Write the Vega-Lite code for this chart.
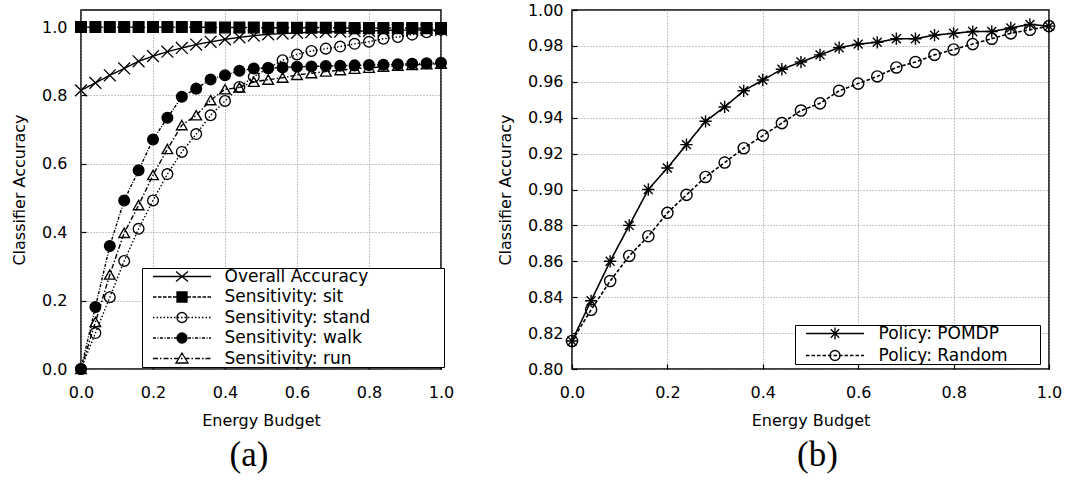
{
  "$schema": "https://vega.github.io/schema/vega-lite/v6.json",
  "padding": {"left": 10, "top": 1, "right": 0, "bottom": 0},
  "background": "white",
  "bounds": "flush",
  "spacing": 131,
  "resolve": {
    "scale": {"shape": "independent", "strokeDash": "independent"},
    "legend": {"shape": "independent", "strokeDash": "independent"}
  },
  "config": {
    "font": "DejaVu Sans",
    "view": {"stroke": "black", "strokeWidth": 1.5},
    "axis": {
      "labelFont": "DejaVu Sans", "labelFontSize": 16, "labelColor": "black",
      "titleFont": "DejaVu Sans", "titleFontSize": 16, "titleFontWeight": "normal", "titleColor": "black",
      "domain": false, "ticks": true, "tickColor": "black", "tickSize": -5, "tickWidth": 1.2,
      "grid": true, "gridColor": "#888888", "gridDash": [1, 2], "gridWidth": 1,
      "labelFlush": false, "labelOverlap": false
    },
    "legend": {
      "title": null, "orient": "none", "padding": 0, "symbolOffset": 2.5, "labelOffset": 63,
      "symbolSize": 4, "symbolStrokeWidth": 1.3, "symbolStrokeColor": "black", "symbolOpacity": 1,
      "labelFont": "DejaVu Sans", "labelFontSize": 17, "labelColor": "black", "labelLimit": 400,
      "fillColor": "white", "strokeColor": "black"
    },
    "title": {"font": "Liberation Serif", "fontSize": 35, "fontWeight": "normal", "color": "black"}
  },
  "datasets": {
    "a": [
      {"x": 0.00, "Overall Accuracy": 0.815, "Sensitivity: sit": 1.000, "Sensitivity: stand": 0.000, "Sensitivity: walk": 0.000, "Sensitivity: run": 0.000},
      {"x": 0.04, "Overall Accuracy": 0.837, "Sensitivity: sit": 1.000, "Sensitivity: stand": 0.105, "Sensitivity: walk": 0.181, "Sensitivity: run": 0.137},
      {"x": 0.08, "Overall Accuracy": 0.859, "Sensitivity: sit": 1.000, "Sensitivity: stand": 0.210, "Sensitivity: walk": 0.360, "Sensitivity: run": 0.276},
      {"x": 0.12, "Overall Accuracy": 0.879, "Sensitivity: sit": 1.000, "Sensitivity: stand": 0.316, "Sensitivity: walk": 0.493, "Sensitivity: run": 0.398},
      {"x": 0.16, "Overall Accuracy": 0.900, "Sensitivity: sit": 1.000, "Sensitivity: stand": 0.410, "Sensitivity: walk": 0.581, "Sensitivity: run": 0.479},
      {"x": 0.20, "Overall Accuracy": 0.915, "Sensitivity: sit": 1.000, "Sensitivity: stand": 0.493, "Sensitivity: walk": 0.671, "Sensitivity: run": 0.567},
      {"x": 0.24, "Overall Accuracy": 0.928, "Sensitivity: sit": 1.000, "Sensitivity: stand": 0.570, "Sensitivity: walk": 0.735, "Sensitivity: run": 0.643},
      {"x": 0.28, "Overall Accuracy": 0.939, "Sensitivity: sit": 1.000, "Sensitivity: stand": 0.635, "Sensitivity: walk": 0.796, "Sensitivity: run": 0.713},
      {"x": 0.32, "Overall Accuracy": 0.949, "Sensitivity: sit": 1.000, "Sensitivity: stand": 0.687, "Sensitivity: walk": 0.820, "Sensitivity: run": 0.742},
      {"x": 0.36, "Overall Accuracy": 0.957, "Sensitivity: sit": 0.999, "Sensitivity: stand": 0.742, "Sensitivity: walk": 0.847, "Sensitivity: run": 0.786},
      {"x": 0.40, "Overall Accuracy": 0.964, "Sensitivity: sit": 0.999, "Sensitivity: stand": 0.784, "Sensitivity: walk": 0.859, "Sensitivity: run": 0.818},
      {"x": 0.44, "Overall Accuracy": 0.970, "Sensitivity: sit": 0.999, "Sensitivity: stand": 0.825, "Sensitivity: walk": 0.872, "Sensitivity: run": 0.823},
      {"x": 0.48, "Overall Accuracy": 0.975, "Sensitivity: sit": 0.999, "Sensitivity: stand": 0.855, "Sensitivity: walk": 0.879, "Sensitivity: run": 0.840},
      {"x": 0.52, "Overall Accuracy": 0.979, "Sensitivity: sit": 0.998, "Sensitivity: stand": 0.880, "Sensitivity: walk": 0.880, "Sensitivity: run": 0.846},
      {"x": 0.56, "Overall Accuracy": 0.981, "Sensitivity: sit": 0.998, "Sensitivity: stand": 0.903, "Sensitivity: walk": 0.882, "Sensitivity: run": 0.852},
      {"x": 0.60, "Overall Accuracy": 0.983, "Sensitivity: sit": 0.998, "Sensitivity: stand": 0.920, "Sensitivity: walk": 0.884, "Sensitivity: run": 0.860},
      {"x": 0.64, "Overall Accuracy": 0.985, "Sensitivity: sit": 0.998, "Sensitivity: stand": 0.930, "Sensitivity: walk": 0.885, "Sensitivity: run": 0.865},
      {"x": 0.68, "Overall Accuracy": 0.986, "Sensitivity: sit": 0.998, "Sensitivity: stand": 0.937, "Sensitivity: walk": 0.886, "Sensitivity: run": 0.870},
      {"x": 0.72, "Overall Accuracy": 0.987, "Sensitivity: sit": 0.998, "Sensitivity: stand": 0.943, "Sensitivity: walk": 0.887, "Sensitivity: run": 0.874},
      {"x": 0.76, "Overall Accuracy": 0.988, "Sensitivity: sit": 0.997, "Sensitivity: stand": 0.951, "Sensitivity: walk": 0.888, "Sensitivity: run": 0.878},
      {"x": 0.80, "Overall Accuracy": 0.989, "Sensitivity: sit": 0.997, "Sensitivity: stand": 0.957, "Sensitivity: walk": 0.889, "Sensitivity: run": 0.881},
      {"x": 0.84, "Overall Accuracy": 0.990, "Sensitivity: sit": 0.997, "Sensitivity: stand": 0.966, "Sensitivity: walk": 0.890, "Sensitivity: run": 0.884},
      {"x": 0.88, "Overall Accuracy": 0.991, "Sensitivity: sit": 0.997, "Sensitivity: stand": 0.971, "Sensitivity: walk": 0.891, "Sensitivity: run": 0.887},
      {"x": 0.92, "Overall Accuracy": 0.991, "Sensitivity: sit": 0.997, "Sensitivity: stand": 0.978, "Sensitivity: walk": 0.893, "Sensitivity: run": 0.889},
      {"x": 0.96, "Overall Accuracy": 0.992, "Sensitivity: sit": 0.997, "Sensitivity: stand": 0.985, "Sensitivity: walk": 0.894, "Sensitivity: run": 0.891},
      {"x": 1.00, "Overall Accuracy": 0.992, "Sensitivity: sit": 0.997, "Sensitivity: stand": 0.992, "Sensitivity: walk": 0.896, "Sensitivity: run": 0.893}
    ],
    "b": [
      {"x": 0.00, "Policy: POMDP": 0.8156, "Policy: Random": 0.8156},
      {"x": 0.04, "Policy: POMDP": 0.838, "Policy: Random": 0.833},
      {"x": 0.08, "Policy: POMDP": 0.860, "Policy: Random": 0.849},
      {"x": 0.12, "Policy: POMDP": 0.880, "Policy: Random": 0.863},
      {"x": 0.16, "Policy: POMDP": 0.900, "Policy: Random": 0.874},
      {"x": 0.20, "Policy: POMDP": 0.912, "Policy: Random": 0.887},
      {"x": 0.24, "Policy: POMDP": 0.925, "Policy: Random": 0.897},
      {"x": 0.28, "Policy: POMDP": 0.938, "Policy: Random": 0.907},
      {"x": 0.32, "Policy: POMDP": 0.946, "Policy: Random": 0.915},
      {"x": 0.36, "Policy: POMDP": 0.955, "Policy: Random": 0.923},
      {"x": 0.40, "Policy: POMDP": 0.961, "Policy: Random": 0.930},
      {"x": 0.44, "Policy: POMDP": 0.967, "Policy: Random": 0.937},
      {"x": 0.48, "Policy: POMDP": 0.971, "Policy: Random": 0.944},
      {"x": 0.52, "Policy: POMDP": 0.975, "Policy: Random": 0.948},
      {"x": 0.56, "Policy: POMDP": 0.979, "Policy: Random": 0.955},
      {"x": 0.60, "Policy: POMDP": 0.981, "Policy: Random": 0.959},
      {"x": 0.64, "Policy: POMDP": 0.982, "Policy: Random": 0.963},
      {"x": 0.68, "Policy: POMDP": 0.984, "Policy: Random": 0.968},
      {"x": 0.72, "Policy: POMDP": 0.984, "Policy: Random": 0.971},
      {"x": 0.76, "Policy: POMDP": 0.986, "Policy: Random": 0.975},
      {"x": 0.80, "Policy: POMDP": 0.987, "Policy: Random": 0.978},
      {"x": 0.84, "Policy: POMDP": 0.988, "Policy: Random": 0.981},
      {"x": 0.88, "Policy: POMDP": 0.988, "Policy: Random": 0.984},
      {"x": 0.92, "Policy: POMDP": 0.990, "Policy: Random": 0.987},
      {"x": 0.96, "Policy: POMDP": 0.992, "Policy: Random": 0.989},
      {"x": 1.00, "Policy: POMDP": 0.991, "Policy: Random": 0.991}
    ]
  },
  "hconcat": [
    {
      "width": 360,
      "height": 359,
      "title": {"text": "(a)", "orient": "bottom", "frame": "group", "anchor": "middle", "dx": -12, "offset": 10},
      "data": {"name": "a"},
      "transform": [
        {"fold": ["Overall Accuracy", "Sensitivity: sit", "Sensitivity: stand", "Sensitivity: walk", "Sensitivity: run"], "as": ["series", "acc"]}
      ],
      "encoding": {
        "x": {"field": "x", "type": "quantitative",
              "scale": {"domain": [0, 1], "nice": false, "zero": false},
              "axis": {"title": "Energy Budget", "values": [0, 0.2, 0.4, 0.6, 0.8, 1.0], "format": ".1f", "labelPadding": 20, "titlePadding": 12}},
        "y": {"field": "acc", "type": "quantitative",
              "scale": {"domain": [0, 1.05], "nice": false, "zero": false},
              "axis": {"title": "Classifier Accuracy", "values": [0, 0.2, 0.4, 0.6, 0.8, 1.0], "format": ".1f", "labelPadding": 19, "titlePadding": 14}}
      },
      "resolve": {
        "scale": {"shape": "independent", "strokeDash": "independent"},
        "legend": {"shape": "independent", "strokeDash": "independent"}
      },
      "layer": [
        {
          "mark": {"type": "line", "stroke": "black", "strokeWidth": 1.4},
          "encoding": {
            "strokeDash": {"field": "series", "type": "nominal",
              "scale": {"range": [[1, 0], [5, 2, 1.5, 2], [4, 2], [1.5, 2], [3, 1.5, 1, 1.5]]},
              "legend": null}
          }
        },
        {
          "mark": {"type": "point", "stroke": "black", "strokeWidth": 1.3, "size": 115, "opacity": 1, "fill": "black"},
          "encoding": {
            "shape": {"field": "series", "type": "nominal",
              "scale": {"range": [
                "M-1.1,-1.1L1.1,1.1M-1.1,1.1L1.1,-1.1",
                "M0,-0.9L1,0.85H-1ZM0,-0.88L-0.98,0.84H0.98Z",
                "square",
                "M1,0A1,1,0,1,1,-1,0A1,1,0,1,1,1,0ZM0.99,0A0.99,0.99,0,1,0,-0.99,0A0.99,0.99,0,1,0,0.99,0Z",
                "circle"
              ]},
              "legend": null}
          }
        },
        {
          "mark": {"type": "point", "stroke": "black", "strokeWidth": 1.3, "size": 4, "opacity": 0, "fill": "transparent"},
          "encoding": {
            "shape": {"field": "series", "type": "nominal",
              "scale": {"domain": ["Overall Accuracy", "Sensitivity: sit", "Sensitivity: stand", "Sensitivity: walk", "Sensitivity: run"],
                        "range": [
                          "M0,0H58M23,-5L35,5M23,5L35,-5M288,0",
                          "M0,0H3.5M5,0H8.5M10,0H13.5M15,0H18.5M20,0H23.5M34.5,0H38M39.5,0H43M44.5,0H48M49.5,0H53M54.5,0H58M24,-5H34V5H24ZM24,-4H34M24,-3H34M24,-2H34M24,-1H34M24,0H34M24,1H34M24,2H34M24,3H34M24,4H34M288,0",
                          "M0,0h1.5M3.5,0h1.5M7,0h1.5M10.5,0h1.5M14,0h1.5M17.5,0h1.5M21,0h1.5M24.5,0h1.5M28,0h1.5M31.5,0h1.5M35,0h1.5M38.5,0h1.5M42,0h1.5M45.5,0h1.5M49,0h1.5M52.5,0h1.5M56,0h1.5M34,0A5,5,0,1,1,24,0A5,5,0,1,1,34,0M288,0",
                          "M0,0H3M4.5,0H5.5M7,0H10M11.5,0H12.5M14,0H17M18.5,0H19.5M21,0H24M35,0H38M39.5,0H40.5M42,0H45M46.5,0H47.5M49,0H52M53.5,0H54.5M56,0H58M34,0A5,5,0,1,1,24,0A5,5,0,1,1,34,0M26,-4H32M25,-3H33M24.42,-2H33.58M24.1,-1H33.9M24,0H34M24.1,1H33.9M24.42,2H33.58M25,3H33M26,4H32M288,0",
                          "M0,0H5M7,0H8.5M10.5,0H15.5M17.5,0H19M21,0H26M28,0H29.5M31.5,0H36.5M38.5,0H40M42,0H47M49,0H50.5M52.5,0H57.5M29,-5.5L35,4.5H23ZM288,0"
                        ]},
              "legend": {"legendX": 61, "legendY": 258, "rowPadding": 2.5}}
          }
        }
      ]
    },
    {
      "width": 477,
      "height": 359,
      "title": {"text": "(b)", "orient": "bottom", "frame": "group", "anchor": "middle", "dx": 7, "offset": 10},
      "data": {"name": "b"},
      "transform": [
        {"fold": ["Policy: POMDP", "Policy: Random"], "as": ["series", "acc"]}
      ],
      "encoding": {
        "x": {"field": "x", "type": "quantitative",
              "scale": {"domain": [0, 1], "nice": false, "zero": false},
              "axis": {"title": "Energy Budget", "values": [0, 0.2, 0.4, 0.6, 0.8, 1.0], "format": ".1f", "labelPadding": 20, "titlePadding": 12}},
        "y": {"field": "acc", "type": "quantitative",
              "scale": {"domain": [0.8, 1.0], "nice": false, "zero": false},
              "axis": {"title": "Classifier Accuracy", "values": [0.8, 0.82, 0.84, 0.86, 0.88, 0.9, 0.92, 0.94, 0.96, 0.98, 1.0], "format": ".2f", "labelPadding": 14, "titlePadding": 14}}
      },
      "resolve": {
        "scale": {"shape": "independent", "strokeDash": "independent"},
        "legend": {"shape": "independent", "strokeDash": "independent"}
      },
      "layer": [
        {
          "mark": {"type": "line", "stroke": "black", "strokeWidth": 1.6},
          "encoding": {
            "strokeDash": {"field": "series", "type": "nominal",
              "scale": {"range": [[1, 0], [3.5, 2]]},
              "legend": null}
          }
        },
        {
          "mark": {"type": "point", "stroke": "black", "strokeWidth": 1.4, "size": 125, "opacity": 1, "fill": "transparent"},
          "encoding": {
            "shape": {"field": "series", "type": "nominal",
              "scale": {"range": ["M0,-1.1V1.1M-1.1,0H1.1M-0.8,-0.8L0.8,0.8M-0.8,0.8L0.8,-0.8", "circle"]},
              "legend": null}
          }
        },
        {
          "mark": {"type": "point", "stroke": "black", "strokeWidth": 1.3, "size": 4, "opacity": 0, "fill": "transparent"},
          "encoding": {
            "shape": {"field": "series", "type": "nominal",
              "scale": {"domain": ["Policy: POMDP", "Policy: Random"],
                        "range": [
                          "M0,0H58M29,-6V6M23,0H35M24.8,-4.2L33.2,4.2M24.8,4.2L33.2,-4.2M231,0",
                          "M0,0H3.5M5.5,0H9M11,0H14.5M16.5,0H20M22,0H25.5M27.5,0H31M33,0H36.5M38.5,0H42M44,0H47.5M49.5,0H53M55,0H58M34,0A5,5,0,1,1,24,0A5,5,0,1,1,34,0M231,0"
                        ]},
              "legend": {"legendX": 223, "legendY": 315, "rowPadding": 3, "symbolOffset": 2.5, "labelOffset": 64}}
          }
        }
      ]
    }
  ]
}
